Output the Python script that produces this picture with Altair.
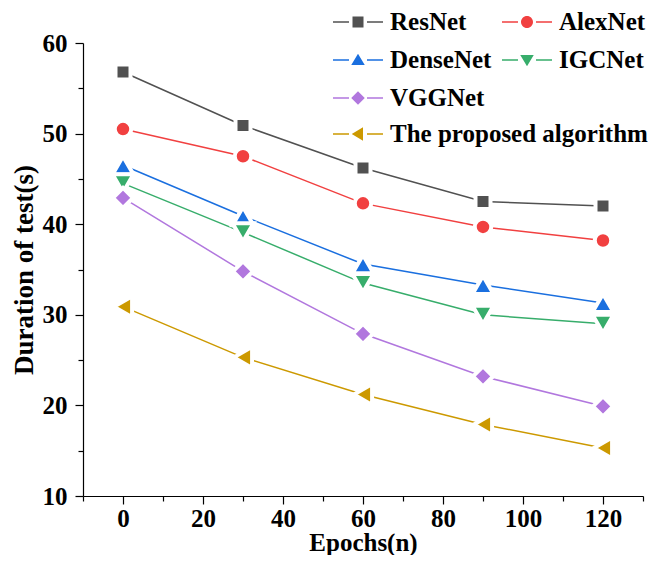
import altair as alt
import pandas as pd

# ---- data ----
epochs = [0, 30, 60, 90, 120]
series_names = ["ResNet", "AlexNet", "DenseNet", "IGCNet", "VGGNet", "The proposed algorithm"]
resnet = [56.8, 50.9, 46.2, 42.5, 42.0]
alexnet = [50.5, 47.5, 42.3, 39.7, 38.2]
densenet = [46.5, 40.9, 35.6, 33.3, 31.3]
igcnet = [44.5, 39.1, 33.5, 30.0, 29.0]
vggnet = [42.9, 34.8, 27.9, 23.2, 19.9]
proposed = [30.9, 25.3, 21.2, 17.9, 15.3]

x_ticks = list(range(-10, 131, 10))
y_ticks = list(range(10, 61, 5))

# ---- styles ----
colors = ["#515151", "#F14040", "#1A6FDF", "#37AD6B", "#B177DE", "#CC9900"]
shapes = ["square", "circle", "triangle-up", "triangle-down", "diamond", "triangle-left"]
sizes = [225, 272, 441, 441, 400, 441]

stub = "M-1,-0.03H-0.36V0.03H-1Z M0.36,-0.03H1V0.03H0.36Z "
legend_paths = [
    stub + "M-0.22,-0.22H0.22V0.22H-0.22Z",
    stub + "M-0.24,0A0.24,0.24,0,1,0,0.24,0A0.24,0.24,0,1,0,-0.24,0Z",
    stub + "M0,-0.25L0.27,0.2L-0.27,0.2Z",
    stub + "M0,0.25L0.27,-0.2L-0.27,-0.2Z",
    stub + "M0,-0.27L0.27,0L0,0.27L-0.27,0Z",
    stub + "M-0.25,0L0.2,-0.27L0.2,0.27Z",
]

values = [resnet, alexnet, densenet, igcnet, vggnet, proposed]
rows = []
for name, vals in zip(series_names, values):
    for e, v in zip(epochs, vals):
        rows.append({"epoch": e, "value": v, "series": name})
df = pd.DataFrame(rows)

FONT = "Liberation Serif"

x_enc = alt.X(
    "epoch:Q",
    scale=alt.Scale(domain=[-10, 130], nice=False, zero=False),
    axis=alt.Axis(
        values=x_ticks,
        labelExpr="datum.value % 20 === 0 ? datum.label : ''",
        title="Epochs(n)",
        titleFontSize=25,
        tickSize={"condition": {"test": "datum.value % 20 === 0", "value": 8}, "value": 5},
        labelPadding=2,
        titlePadding=-1,
        labelOverlap=False,
        labelFlush=False,
    ),
)
y_enc = alt.Y(
    "value:Q",
    scale=alt.Scale(domain=[10, 60], nice=False, zero=False),
    axis=alt.Axis(
        values=y_ticks,
        labelExpr="datum.value % 10 === 0 ? datum.label : ''",
        title="Duration of test(s)",
        titleFontSize=27,
        tickSize={"condition": {"test": "datum.value % 10 === 0", "value": 8}, "value": 5},
        labelPadding=8,
        titlePadding=4,
        labelOverlap=False,
        labelFlush=False,
    ),
)

base = alt.Chart(df)

lines = base.mark_line(strokeWidth=1.5).encode(
    x=x_enc,
    y=y_enc,
    color=alt.Color("series:N", scale=alt.Scale(domain=series_names, range=colors), legend=None),
    detail="series:N",
)

size_expr = ""
for n, s in zip(series_names, sizes):
    size_expr += f"datum.series === '{n}' ? {s} : "
size_expr += "225"

points = base.transform_calculate(msize=size_expr).mark_point(
    filled=True, opacity=1, stroke="white", strokeWidth=4
).encode(
    x=x_enc,
    y=y_enc,
    fill=alt.Fill("series:N", scale=alt.Scale(domain=series_names, range=colors), legend=None),
    shape=alt.Shape("series:N", scale=alt.Scale(domain=series_names, range=shapes), legend=None),
    size=alt.Size("msize:Q", scale=None, legend=None),
)


def make_legend(y, cols):
    return alt.Legend(
        title=None,
        orient="none",
        direction="horizontal",
        legendX=250,
        legendY=y,
        columns=cols,
        gridAlign="each",
        columnPadding=10,
        rowPadding=0,
        symbolSize=2500,
        symbolStrokeWidth=0,
        symbolOpacity=1,
        labelFont=FONT,
        labelFontSize=25,
        labelFontWeight="bold",
        labelColor="black",
        labelOffset=7,
        labelLimit=400,
        padding=0,
        labelExpr="datum.label == 'VGGNet' ? '\u00a0' + datum.label : (datum.label == 'IGCNet' ? '\u00a0\u00a0' + datum.label : datum.label)",
    )


def cols_colors(names):
    return [colors[series_names.index(n)] for n in names]


def legend_layer(names, cols, paths, y):
    leg = make_legend(y, cols)
    return base.transform_filter("false").mark_point(filled=True, opacity=1).encode(
        x=x_enc,
        y=y_enc,
        fill=alt.Fill("series:N", scale=alt.Scale(domain=names, range=cols_colors(names)), legend=leg),
        shape=alt.Shape("series:N", scale=alt.Scale(domain=names, range=paths), legend=leg),
    )


legend_a = legend_layer(series_names[:5], 2, legend_paths[:5], -46)
legend_b = legend_layer(series_names[5:], 1, legend_paths[5:], 66)

chart = (
    alt.layer(lines, points, legend_a, legend_b)
    .resolve_scale(fill="independent", shape="independent")
    .properties(
        width=560,
        height=453,
        autosize=alt.AutoSizeParams(type="none"),
        padding={"left": 75, "top": 35, "right": 8, "bottom": 59},
    )
    .configure_view(stroke=None)
    .configure_axis(
        grid=False,
        labelFont=FONT,
        labelFontSize=25,
        labelFontWeight="bold",
        labelColor="black",
        titleFont=FONT,
        titleFontWeight="bold",
        titleColor="black",
        domainColor="black",
        domainWidth=1.2,
        tickColor="black",
        tickWidth=1.2,
    )
)

chart.save("out.html", embed_options={"renderer": "svg", "actions": False})
